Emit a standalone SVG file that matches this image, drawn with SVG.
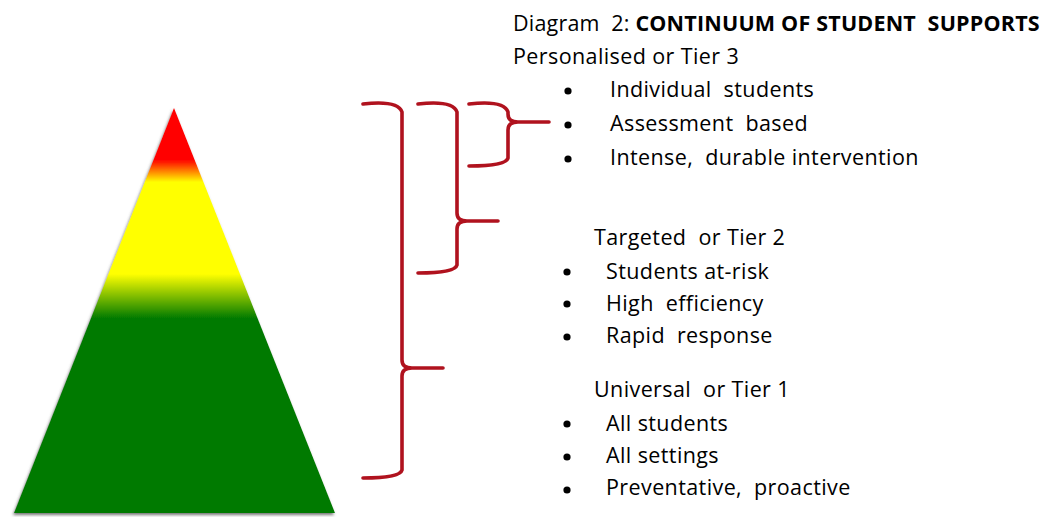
<svg xmlns="http://www.w3.org/2000/svg" width="1046" height="517" viewBox="0 0 1046 517">
<style>
.t{font-family:"Open Sans","Noto Sans",sans-serif;font-size:21.5px;letter-spacing:0.4px;fill:#000;white-space:pre}
.h{letter-spacing:0.2px}
.b{font-weight:bold}
.brace{fill:none;stroke:#B0121E;stroke-width:3.6;stroke-linecap:round;stroke-linejoin:round}
</style>
<defs>
<linearGradient id="tri" x1="0" y1="108" x2="0" y2="513" gradientUnits="userSpaceOnUse">
<stop offset="0" stop-color="#FF0000"/>
<stop offset="0.128" stop-color="#FF0000"/>
<stop offset="0.183" stop-color="#FFFF00"/>
<stop offset="0.41" stop-color="#FFFF00"/>
<stop offset="0.52" stop-color="#007A00"/>
<stop offset="1" stop-color="#007A00"/>
</linearGradient>
<filter id="sh" x="-10%" y="-10%" width="120%" height="120%">
<feDropShadow dx="-1" dy="2" stdDeviation="1.5" flood-color="#555" flood-opacity="0.8"/>
</filter>
</defs>
<g id="pyramid">
<polygon points="174,108 335,513 14,513" fill="url(#tri)" filter="url(#sh)"/>
</g>
<g id="connectors">
<path class="brace" d="M363,104 Q398,100 402,112 L402,360 Q402,368 412,368 L443,368 M412,368 Q402,368 402,376 L402,470 Q400,478 363,478"/>
<path class="brace" d="M418,104 Q453,100 457,112 L457,213 Q457,221 467,221 L498,221 M467,221 Q457,221 457,229 L457,265 Q455,273 418,273"/>
<path class="brace" d="M469,104 Q504,100 508,112 L508,114 Q508,122 518,122 L549,122 M518,122 Q508,122 508,130 L508,158 Q506,166 469,166"/>
</g>
<g id="title">
<text class="t h" x="513" y="31" xml:space="preserve">Diagram  2: <tspan class="b">CONTINUUM OF STUDENT  SUPPORTS</tspan></text>
</g>
<g id="tier3">
<text class="t" x="513" y="64">Personalised or Tier 3</text>
<circle cx="568" cy="91" r="3.6"/>
<circle cx="568" cy="125" r="3.6"/>
<circle cx="568" cy="159" r="3.6"/>
<text class="t" x="610" y="97" xml:space="preserve">Individual  students</text>
<text class="t" x="610" y="131" xml:space="preserve">Assessment  based</text>
<text class="t" x="610" y="165" xml:space="preserve">Intense,  durable intervention</text>
</g>
<g id="tier2">
<text class="t" x="594" y="245" xml:space="preserve">Targeted  or Tier 2</text>
<circle cx="567" cy="272" r="3.6"/>
<circle cx="567" cy="304" r="3.6"/>
<circle cx="567" cy="337" r="3.6"/>
<text class="t" x="606" y="279">Students at-risk</text>
<text class="t" x="606" y="311" xml:space="preserve">High  efficiency</text>
<text class="t" x="606" y="343" xml:space="preserve">Rapid  response</text>
</g>
<g id="tier1">
<text class="t" x="594" y="397" xml:space="preserve">Universal  or Tier 1</text>
<circle cx="567" cy="424" r="3.6"/>
<circle cx="567" cy="457" r="3.6"/>
<circle cx="567" cy="490" r="3.6"/>
<text class="t" x="606" y="431">All students</text>
<text class="t" x="606" y="463">All settings</text>
<text class="t" x="606" y="495" xml:space="preserve">Preventative,  proactive</text>
</g>
</svg>
